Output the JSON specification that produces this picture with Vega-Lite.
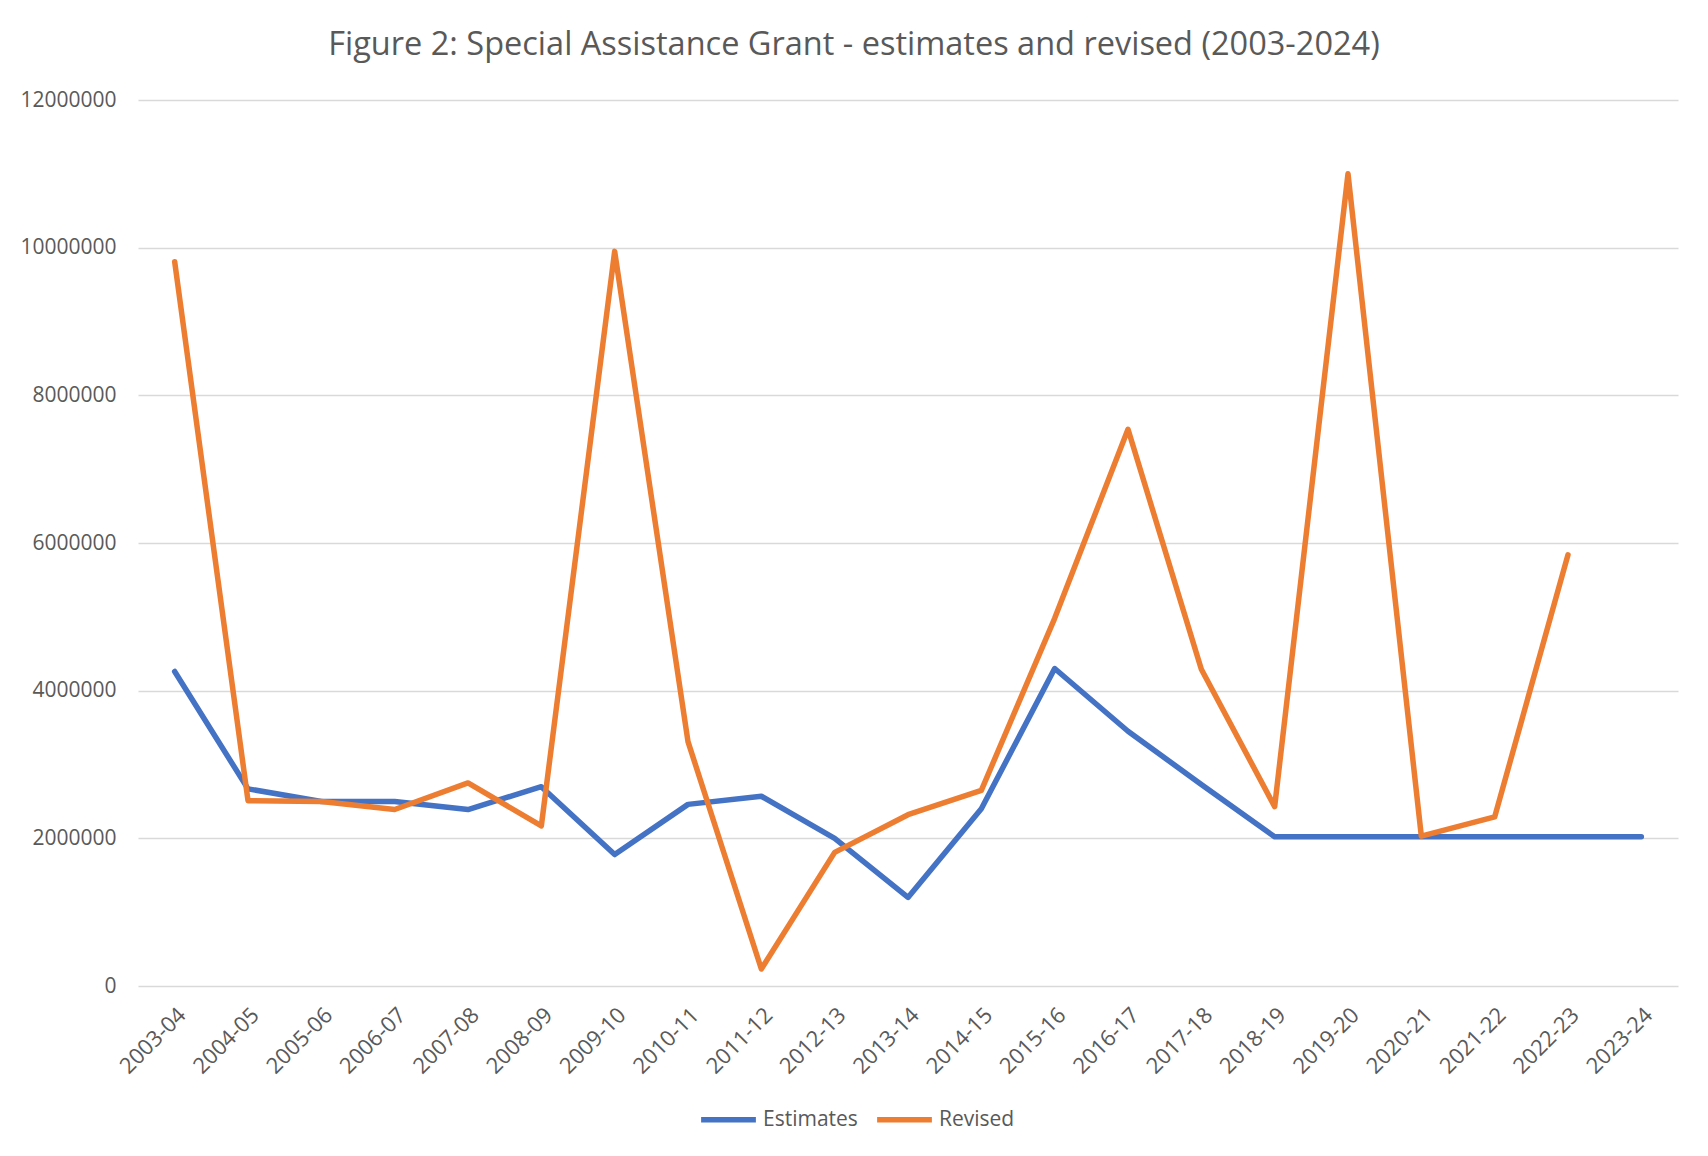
{
  "$schema": "https://vega.github.io/schema/vega-lite/v6.json",
  "width": 1540,
  "height": 886,
  "autosize": {"type": "none"},
  "padding": {"left": 138, "top": 100, "right": 30, "bottom": 170},
  "background": "white",
  "title": {
    "text": "Figure 2: Special Assistance Grant - estimates and revised (2003-2024)",
    "font": "Open Sans",
    "fontSize": 32.5,
    "fontWeight": "normal",
    "color": "#595959",
    "anchor": "middle",
    "dx": -54,
    "offset": 28
  },
  "data": {
    "values": [
      {"year": "2003-04", "series": "Estimates", "value": 4260000},
      {"year": "2004-05", "series": "Estimates", "value": 2670000},
      {"year": "2005-06", "series": "Estimates", "value": 2500000},
      {"year": "2006-07", "series": "Estimates", "value": 2500000},
      {"year": "2007-08", "series": "Estimates", "value": 2390000},
      {"year": "2008-09", "series": "Estimates", "value": 2700000},
      {"year": "2009-10", "series": "Estimates", "value": 1780000},
      {"year": "2010-11", "series": "Estimates", "value": 2460000},
      {"year": "2011-12", "series": "Estimates", "value": 2570000},
      {"year": "2012-13", "series": "Estimates", "value": 2000000},
      {"year": "2013-14", "series": "Estimates", "value": 1200000},
      {"year": "2014-15", "series": "Estimates", "value": 2400000},
      {"year": "2015-16", "series": "Estimates", "value": 4300000},
      {"year": "2016-17", "series": "Estimates", "value": 3450000},
      {"year": "2017-18", "series": "Estimates", "value": 2730000},
      {"year": "2018-19", "series": "Estimates", "value": 2020000},
      {"year": "2019-20", "series": "Estimates", "value": 2020000},
      {"year": "2020-21", "series": "Estimates", "value": 2020000},
      {"year": "2021-22", "series": "Estimates", "value": 2020000},
      {"year": "2022-23", "series": "Estimates", "value": 2020000},
      {"year": "2023-24", "series": "Estimates", "value": 2020000},
      {"year": "2003-04", "series": "Revised", "value": 9810000},
      {"year": "2004-05", "series": "Revised", "value": 2510000},
      {"year": "2005-06", "series": "Revised", "value": 2500000},
      {"year": "2006-07", "series": "Revised", "value": 2390000},
      {"year": "2007-08", "series": "Revised", "value": 2750000},
      {"year": "2008-09", "series": "Revised", "value": 2170000},
      {"year": "2009-10", "series": "Revised", "value": 9950000},
      {"year": "2010-11", "series": "Revised", "value": 3310000},
      {"year": "2011-12", "series": "Revised", "value": 230000},
      {"year": "2012-13", "series": "Revised", "value": 1810000},
      {"year": "2013-14", "series": "Revised", "value": 2320000},
      {"year": "2014-15", "series": "Revised", "value": 2650000},
      {"year": "2015-16", "series": "Revised", "value": 4980000},
      {"year": "2016-17", "series": "Revised", "value": 7540000},
      {"year": "2017-18", "series": "Revised", "value": 4290000},
      {"year": "2018-19", "series": "Revised", "value": 2430000},
      {"year": "2019-20", "series": "Revised", "value": 11000000},
      {"year": "2020-21", "series": "Revised", "value": 2030000},
      {"year": "2021-22", "series": "Revised", "value": 2290000},
      {"year": "2022-23", "series": "Revised", "value": 5840000}
    ]
  },
  "mark": {"type": "line", "strokeWidth": 5.5, "strokeCap": "round", "strokeJoin": "round"},
  "encoding": {
    "x": {
      "field": "year",
      "type": "ordinal",
      "sort": null,
      "scale": {"type": "point", "padding": 0.5},
      "axis": {
        "title": null,
        "labelAngle": -45,
        "labelFont": "Open Sans",
        "labelFontSize": 22,
        "labelColor": "#595959",
        "ticks": false,
        "domain": false,
        "grid": false,
        "labelPadding": 18
      }
    },
    "y": {
      "field": "value",
      "type": "quantitative",
      "scale": {"domain": [0, 12000000], "nice": false},
      "axis": {
        "title": null,
        "values": [0, 2000000, 4000000, 6000000, 8000000, 10000000, 12000000],
        "format": "d",
        "labelFont": "Open Sans",
        "labelFontSize": 21,
        "labelColor": "#595959",
        "ticks": false,
        "domain": false,
        "grid": true,
        "gridColor": "#D9D9D9",
        "gridWidth": 1.5,
        "labelPadding": 22
      }
    },
    "color": {
      "field": "series",
      "type": "nominal",
      "scale": {"domain": ["Estimates", "Revised"], "range": ["#4472C4", "#ED7D31"]},
      "legend": {
        "title": null,
        "orient": "none",
        "legendX": 560,
        "legendY": 989,
        "direction": "horizontal",
        "symbolType": "stroke",
        "symbolStrokeWidth": 5.5,
        "symbolSize": 3000,
        "labelFont": "Open Sans",
        "labelFontSize": 21,
        "labelColor": "#595959",
        "labelOffset": 4,
        "columnPadding": 8
      }
    }
  },
  "config": {"view": {"stroke": null}}
}
